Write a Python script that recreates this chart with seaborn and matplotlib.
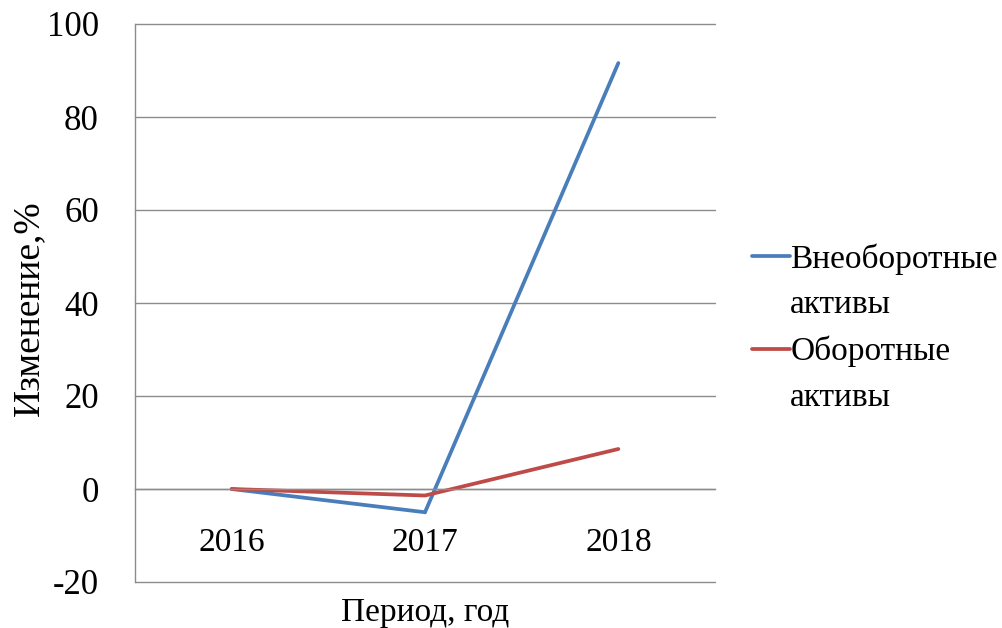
import matplotlib
matplotlib.use("Agg")
import matplotlib.pyplot as plt
from matplotlib.lines import Line2D
import seaborn as sns
import pandas as pd

# Data
years = ["2016", "2017", "2018"]
noncurrent_assets = [0.0, -5.0, 91.6]
current_assets = [0.0, -1.4, 8.6]
series_names = ["Внеоборотные активы", "Оборотные активы"]
legend_lines = [["Внеоборотные", "активы"], ["Оборотные", "активы"]]
y_ticks = [-20, 0, 20, 40, 60, 80, 100]

colors = ["#4A7EBB", "#BE4B48"]
grid_color = "#8C8C8C"

sns.set_theme(style="white")
plt.rcParams["font.family"] = ["Liberation Serif", "DejaVu Serif"]
plt.rcParams["text.color"] = "black"

df = pd.DataFrame({
    "year": years * 2,
    "value": noncurrent_assets + current_assets,
    "series": [series_names[0]] * 3 + [series_names[1]] * 3,
})

fig = plt.figure(figsize=(10.03, 6.28), dpi=100)
ax = fig.add_axes([135 / 1003, 1 - 582 / 628, 580 / 1003, 558 / 628])

sns.lineplot(data=df, x="year", y="value", hue="series", palette=colors,
             linewidth=2.7, legend=False, ax=ax, sort=False)
for ln in ax.get_lines():
    ln.set_solid_capstyle("round")
    ln.set_solid_joinstyle("miter")

ax.set_xlim(-0.5, 2.5)
ax.set_ylim(-20, 100)
ax.set_yticks(y_ticks)
ax.set_yticklabels([str(v) for v in y_ticks])

# Horizontal grid lines (the -20 line closes the plot area at the bottom)
ax.yaxis.grid(True, color=grid_color, linewidth=1.0, clip_on=False)
ax.xaxis.grid(False)
ax.set_axisbelow(True)

# Category axis crosses at zero
for side in ["top", "right"]:
    ax.spines[side].set_visible(False)
ax.spines["left"].set_color(grid_color)
ax.spines["left"].set_linewidth(1.0)
ax.spines["bottom"].set_position(("data", 0))
ax.spines["bottom"].set_color(grid_color)
ax.spines["bottom"].set_linewidth(1.0)

ax.tick_params(axis="x", length=0, pad=28, labelsize=24, labelcolor="black")
ax.tick_params(axis="y", length=0, pad=26, labelsize=25, labelcolor="black")

ax.set_xlabel("Период, год", fontsize=24, color="black")
ax.xaxis.set_label_coords(0.5, -0.028)
ax.set_ylabel("Изменение,%", fontsize=27, color="black")
ax.yaxis.set_label_coords(-0.153, 0.49)

# Legend: each two-line label split into rows so the key sits on the first line
handles, labels = [], []
for col, lines in zip(colors, legend_lines):
    handles.append(Line2D([], [], color=col, linewidth=2.7))
    labels.append(lines[0])
    for extra in lines[1:]:
        handles.append(Line2D([], [], color="none"))
        labels.append(extra)
fig.legend(handles, labels, loc="upper left",
           bbox_to_anchor=(752 / 1003, 1 - 243 / 628),
           frameon=False, fontsize=24, handlelength=1.15, handletextpad=0.0,
           labelspacing=0.46, borderpad=0, borderaxespad=0, labelcolor="black")

fig.savefig("out.png", dpi=100, facecolor="white")
